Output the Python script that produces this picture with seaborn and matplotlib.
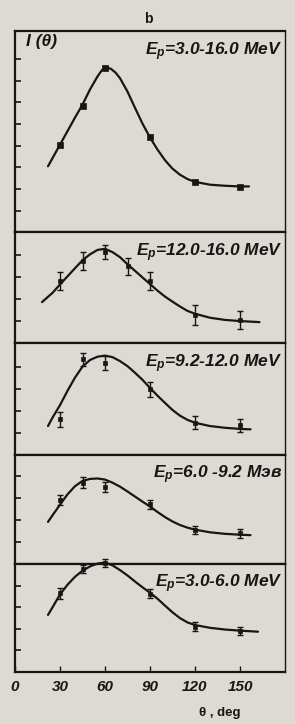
import matplotlib
matplotlib.use("Agg")
import matplotlib.pyplot as plt
from matplotlib import font_manager
import seaborn as sns
import pandas as pd

# Angular distributions I(theta) of the emitted particles for five proton energy windows

# %% data
point_theta_1 = [30, 45, 60, 90, 120, 150]
point_val_1 = [4.03, 5.85, 7.6, 4.4, 2.31, 2.1]
curve_theta_1 = [22, 30, 40, 45, 50, 55, 58, 61, 64, 67, 70, 75, 80, 85, 90, 95, 100, 105, 110, 115, 120, 130, 140, 150, 156]
curve_val_1 = [3.05, 4.05, 5.3, 5.9, 6.6, 7.2, 7.5, 7.62, 7.55, 7.38, 7.12, 6.5, 5.75, 5.02, 4.38, 3.82, 3.33, 2.94, 2.66, 2.46, 2.33, 2.2, 2.15, 2.12, 2.12]

point_theta_2 = [30, 45, 60, 75, 90, 120, 150]
point_val_2 = [2.85, 3.76, 4.15, 3.5, 2.85, 1.3, 1.08]
point_err_2 = [0.4, 0.4, 0.32, 0.37, 0.4, 0.44, 0.4]
curve_theta_2 = [18, 25, 30, 35, 40, 45, 50, 55, 60, 65, 70, 75, 80, 85, 90, 95, 100, 105, 110, 115, 120, 130, 140, 150, 163]
curve_val_2 = [1.88, 2.3, 2.68, 3.05, 3.42, 3.78, 4.05, 4.25, 4.3, 4.15, 3.92, 3.6, 3.3, 3.0, 2.7, 2.4, 2.13, 1.9, 1.68, 1.48, 1.35, 1.17, 1.07, 1.02, 0.97]

point_theta_3 = [30, 45, 60, 90, 120, 150]
point_val_3 = [1.6, 4.33, 4.15, 2.97, 1.45, 1.33]
point_err_3 = [0.35, 0.3, 0.32, 0.33, 0.3, 0.3]
curve_theta_3 = [22, 25, 30, 35, 40, 45, 50, 55, 60, 65, 70, 75, 80, 85, 90, 95, 100, 105, 110, 115, 120, 130, 140, 150, 157]
curve_val_3 = [1.3, 1.68, 2.25, 2.9, 3.5, 4.0, 4.3, 4.45, 4.5, 4.43, 4.25, 4.02, 3.72, 3.4, 3.03, 2.68, 2.35, 2.03, 1.77, 1.58, 1.45, 1.3, 1.22, 1.17, 1.15]

point_theta_4 = [30, 45, 60, 90, 120, 150]
point_val_4 = [2.88, 3.67, 3.48, 2.7, 1.55, 1.39]
point_err_4 = [0.23, 0.25, 0.23, 0.2, 0.18, 0.2]
curve_theta_4 = [22, 25, 30, 35, 40, 45, 50, 55, 60, 65, 70, 75, 80, 85, 90, 95, 100, 105, 110, 115, 120, 130, 140, 150, 157]
curve_val_4 = [1.9, 2.2, 2.68, 3.15, 3.52, 3.76, 3.85, 3.87, 3.82, 3.68, 3.5, 3.28, 3.05, 2.82, 2.6, 2.35, 2.12, 1.92, 1.76, 1.64, 1.55, 1.43, 1.36, 1.32, 1.3]

point_theta_5 = [30, 45, 60, 90, 120, 150]
point_val_5 = [3.66, 4.78, 5.05, 3.63, 2.1, 1.9]
point_err_5 = [0.25, 0.2, 0.2, 0.2, 0.2, 0.2]
curve_theta_5 = [22, 25, 30, 35, 40, 45, 50, 55, 60, 65, 70, 75, 80, 85, 90, 95, 100, 105, 110, 115, 120, 130, 140, 150, 162]
curve_val_5 = [2.65, 3.0, 3.6, 4.05, 4.42, 4.7, 4.9, 5.03, 5.08, 4.95, 4.73, 4.48, 4.2, 3.93, 3.68, 3.4, 3.08, 2.77, 2.5, 2.3, 2.18, 2.05, 1.97, 1.92, 1.87]

panel_labels = [
    r"$E_p$=3.0-16.0 MeV",
    r"$E_p$=12.0-16.0 MeV",
    r"$E_p$=9.2-12.0 MeV",
    r"$E_p$=6.0 -9.2 Мэв",
    r"$E_p$=3.0-6.0 MeV",
]
x_ticks = [0, 30, 60, 90, 120, 150]
x_tick_labels = ["0", "30", "60", "90", "120", "150"]

# %% style
BG = "#dcdad2"
INK = "#161616"

sns.set_theme(style="white")
names = {f.name for f in font_manager.fontManager.ttflist}
family = "DejaVu Sans"
for cand in ["Liberation Sans Narrow", "DejaVu Sans Condensed", "Liberation Sans"]:
    if cand in names:
        family = cand
        break
plt.rcParams["font.family"] = [family, "DejaVu Sans"]
plt.rcParams["mathtext.fontset"] = "custom"
plt.rcParams["mathtext.it"] = f"{family}:italic:bold"
plt.rcParams["mathtext.rm"] = f"{family}:bold"
plt.rcParams["figure.facecolor"] = BG
plt.rcParams["axes.facecolor"] = BG

fig = plt.figure(figsize=(2.95, 7.24), dpi=100)
gs = fig.add_gridspec(5, 1, height_ratios=[201, 111, 111, 109, 108], hspace=0,
                      left=15 / 295, right=285 / 295, top=1 - 31 / 724, bottom=1 - 672 / 724)

panels = [
    (point_theta_1, point_val_1, None, curve_theta_1, curve_val_1, 9.3, 8),
    (point_theta_2, point_val_2, point_err_2, curve_theta_2, curve_val_2, 5.05, 4),
    (point_theta_3, point_val_3, point_err_3, curve_theta_3, curve_val_3, 5.05, 4),
    (point_theta_4, point_val_4, point_err_4, curve_theta_4, curve_val_4, 4.95, 4),
    (point_theta_5, point_val_5, point_err_5, curve_theta_5, curve_val_5, 5.02, 4),
]

txt = dict(fontweight="bold", fontstyle="italic", color=INK)

for i, (pt, pv, pe, ct, cv, ytop, nt) in enumerate(panels):
    ax = fig.add_subplot(gs[i])
    ax.set_facecolor(BG)
    sns.lineplot(x=ct, y=cv, ax=ax, color=INK, linewidth=1.6, clip_on=False)
    if pe is not None:
        ax.errorbar(pt, pv, yerr=pe, fmt="none", ecolor=INK, elinewidth=1.0,
                    capsize=2, capthick=1.0, clip_on=False)
    sns.scatterplot(x=pt, y=pv, ax=ax, color=INK, marker="s", s=13 if i == 0 else 9,
                    edgecolor=INK, linewidth=0.5, clip_on=False, zorder=5)
    ax.set_xlim(0, 180)
    ax.set_ylim(0, ytop)
    ax.set_yticks(range(1, nt + 1))
    ax.set_yticklabels([])
    ax.tick_params(axis="y", direction="in", length=4, width=1.2, color=INK, left=True)
    for side in ["left", "right", "top", "bottom"]:
        ax.spines[side].set_color(INK)
        ax.spines[side].set_linewidth(1.6 if side != "right" else 1.0)
    if i < 4:
        ax.set_xticks([])
    else:
        ax.set_xticks(x_ticks)
        ax.set_xticklabels(x_tick_labels, fontsize=11, **txt)
        ax.tick_params(axis="x", direction="in", length=4, width=1.0, color=INK,
                       bottom=True, pad=6)
        ax.set_xlabel("θ , deg", fontsize=9.5, fontweight="bold", color=INK,
                      labelpad=2)
        ax.xaxis.set_label_coords(0.76, -0.32)
    ax.set_ylabel("")
    ax.text(0.99, 0.955 if i == 0 else 0.82, panel_labels[i], transform=ax.transAxes,
            ha="right", va="top" if i == 0 else "center", fontsize=12.5, **txt)
    if i == 0:
        ax.text(0.04, 0.985, "I (θ)", transform=ax.transAxes, ha="left", va="top",
                fontsize=12.5, **txt)

fig.text(148 / 295, 1 - 19 / 724, "b", ha="center", va="center", fontsize=10,
         fontweight="bold", color=INK)

fig.savefig("out.png", dpi=100, facecolor=BG)
